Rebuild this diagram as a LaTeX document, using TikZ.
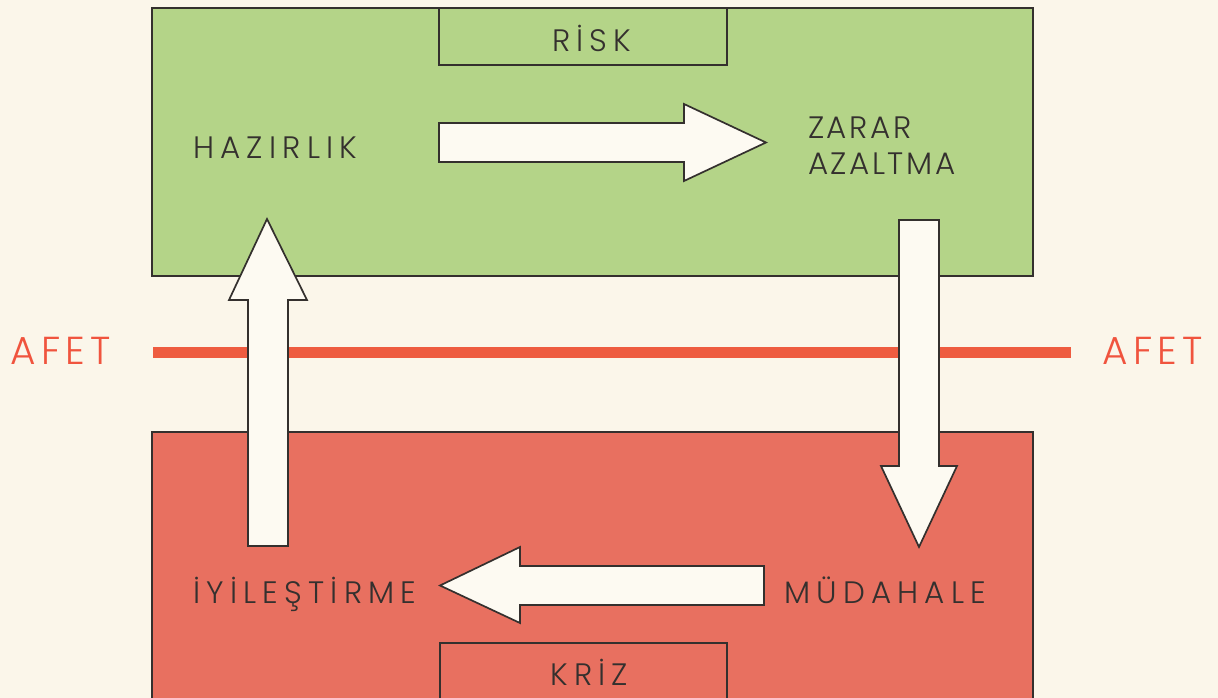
\documentclass[tikz,border=0pt]{standalone}
\usepackage{fontspec}
\setmainfont{Poppins Light}[LetterSpace=20]
\newfontfamily\narrowfont{Poppins Light}[LetterSpace=8]
\newfontfamily\afetfont{Poppins Light}[LetterSpace=14]
\definecolor{bgcream}{RGB}{251,246,234}
\definecolor{boxgreen}{RGB}{180,212,136}
\definecolor{boxred}{RGB}{232,112,96}
\definecolor{linered}{RGB}{238,92,64}
\definecolor{afetred}{RGB}{240,84,62}
\definecolor{arrowfill}{RGB}{253,250,242}
\definecolor{ink}{RGB}{52,48,46}
\tikzset{
  panel/.style={draw=ink, line width=1.4pt},
  blockarrow/.style={draw=ink, fill=arrowfill, line width=1.7pt, line join=miter},
  lbl/.style={inner sep=0pt, text=ink, font=\fontsize{31}{34}\selectfont},
  narrowlbl/.style={inner sep=0pt, text=ink, font=\narrowfont\fontsize{31}{34}\selectfont},
  afetlbl/.style={inner sep=0pt, text=afetred, font=\afetfont\fontsize{39}{42}\selectfont},
}
\begin{document}
\begin{tikzpicture}[x=1pt,y=-1pt]
\useasboundingbox (0,0) rectangle (1218,698);
\clip (0,0) rectangle (1218,698);
\fill[bgcream] (0,0) rectangle (1218,698);
% panels
\draw[panel, fill=boxgreen] (152,8) rectangle (1033,276);
\draw[panel, fill=boxred] (152,432) rectangle (1033,720);
\draw[panel] (439,8) rectangle (727,65);
\draw[panel] (440,643) rectangle (727,720);
% disaster line
\fill[linered] (153,347) rectangle (1071,358);
% arrows
\draw[blockarrow] (439,123) -- (684,123) -- (684,104) -- (766,142.5) -- (684,181) -- (684,162) -- (439,162) -- cycle;
\draw[blockarrow] (899,220) -- (939,220) -- (939,466) -- (957,466) -- (919,547) -- (881,466) -- (899,466) -- cycle;
\draw[blockarrow] (764,566) -- (764,605) -- (520,605) -- (520,623) -- (440,585.5) -- (520,547) -- (520,566) -- cycle;
\draw[blockarrow] (248,546) -- (288,546) -- (288,300) -- (307,300) -- (267,219) -- (229,300) -- (248,300) -- cycle;
% labels
\node[lbl, anchor=base west] (risk) at (552,52) {RİSK};
\node[lbl, anchor=base west] (haz) at (193,158) {HAZIRLIK};
\node[narrowlbl, anchor=base west] (zarar) at (808,139) {ZARAR};
\node[narrowlbl, anchor=base west] (azalt) at (808,174) {AZALTMA};
\node[lbl, anchor=base west] (iyi) at (193,603) {İYİLEŞTİRME};
\node[lbl, anchor=base west] (mud) at (784,603) {MÜDAHALE};
\node[lbl, anchor=base west] (kriz) at (550,685) {KRİZ};
\node[afetlbl, anchor=base west] (afetl) at (10,364) {AFET};
\node[afetlbl, anchor=base west] (afetr) at (1102,364) {AFET};
\end{tikzpicture}
\end{document}
